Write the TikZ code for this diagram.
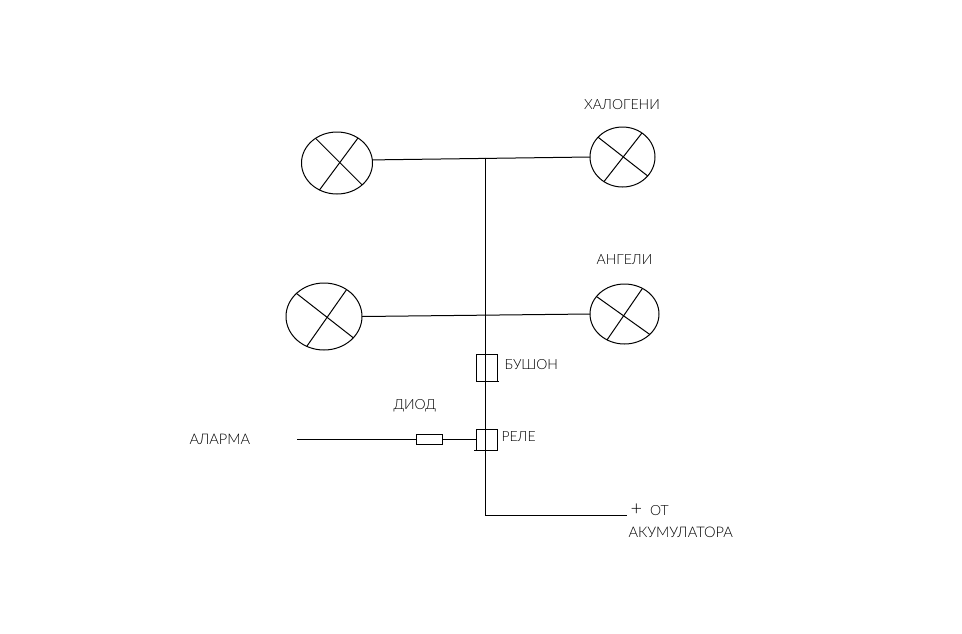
\documentclass[tikz,border=0pt]{standalone}
\usepackage{fontspec}
\setmainfont{Lato}[UprightFont=* Light]
\usetikzlibrary{shapes.geometric}
\tikzset{
    lamp/.style={ellipse, draw, inner sep=0pt, outer sep=0pt},
    part/.style={rectangle, draw, inner sep=0pt, outer sep=0pt},
    lbl/.style={inner sep=0pt, text=black, font=\fontsize{14}{16}\selectfont},
    widelbl/.style={lbl, font=\fontsize{14.6}{16}\selectfont},
    wire/.style={line width=1pt}
}
\begin{document}
\begin{tikzpicture}[x=1pt,y=-1pt,line width=1pt]
        \useasboundingbox (0,0) rectangle (962,633);

        \node[lamp, minimum width=71pt, minimum height=62pt] (lampa) at (337, 163) {};
        \node[lamp, minimum width=65pt, minimum height=60pt] (lampb) at (622.5, 157) {};
        \node[lamp, minimum width=76pt, minimum height=67pt] (lampc) at (324, 316.5) {};
        \node[lamp, minimum width=69pt, minimum height=60pt] (lampd) at (624.5, 314) {};

        \node[part, minimum width=21pt, minimum height=27pt] (fuse) at (486.5, 367.5) {};
        \node[part, minimum width=21pt, minimum height=21pt] (relay) at (486.5, 439.5) {};
        \node[part, minimum width=26pt, minimum height=10pt] (diode) at (429, 439.5) {};

        \coordinate (bustop) at (485.3, 157.5);
        \coordinate (buscorner) at (485.3, 515);
        \coordinate (busend) at (627, 515);
        \coordinate (alarmend) at (297, 439.5);

        \draw[wire] (lampa.5) -- (lampb.west);
        \draw[wire] (lampc.east) -- (lampd.west);
        \draw[wire] (bustop) -- (buscorner) -- (busend);
        \draw[wire] (alarmend) -- (diode.west);
        \draw[wire] (diode.east) -- (relay.west);
        \draw[wire] (fuse.south east) -- ++(2,0);
        \draw[wire] (relay.south west) -- ++(-2,0);

        \draw (lampa.131) -- (lampa.-41);
        \draw (lampa.50) -- (lampa.-123);
        \draw (lampb.141) -- (lampb.-37);
        \draw (lampb.51) -- (lampb.-127);
        \draw (lampc.140) -- (lampc.-36);
        \draw (lampc.50) -- (lampc.-120);
        \draw (lampd.148) -- (lampd.-39);
        \draw (lampd.55) -- (lampd.-124);

        \node[lbl] (halogen) at (622, 105) {ХАЛОГЕНИ};
        \node[lbl] (angel) at (624.5, 260) {АНГЕЛИ};
        \node[lbl, anchor=west] (fuselbl) at (504, 365) {БУШОН};
        \node[lbl, anchor=west] (relaylbl) at (501, 437) {РЕЛЕ};
        \node[lbl, anchor=west] (diodelbl) at (393, 406) {ДИОД};
        \node[widelbl, anchor=west] (alarm) at (189, 439) {АЛАРМА};
        \node[lbl, anchor=west] (plus) at (630, 510) {{\fontsize{20}{20}\selectfont +}\hspace{8pt}ОТ};
        \node[widelbl, anchor=west] (accu) at (628, 532) {АКУМУЛАТОРА};

    \end{tikzpicture}
\end{document}
